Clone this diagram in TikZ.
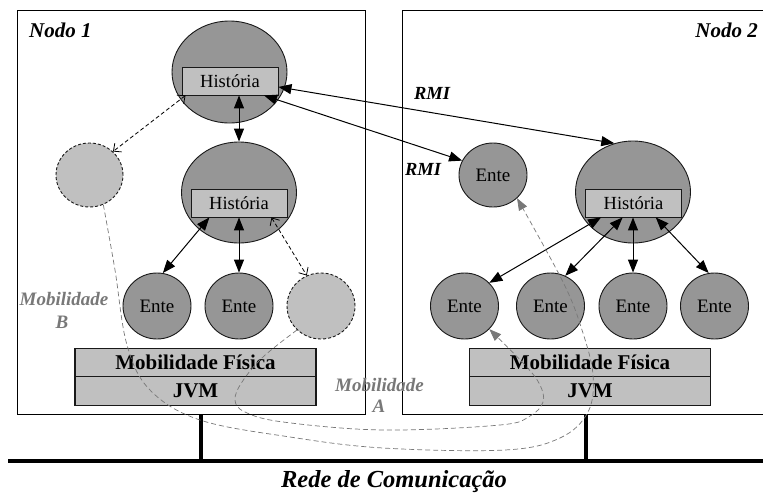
\documentclass[tikz,border=0pt]{standalone}
\usepackage{fontspec}
\setmainfont{Liberation Serif}
\usetikzlibrary{arrows.meta,shapes.geometric}
\definecolor{entefill}{RGB}{150,150,150}
\definecolor{lightfill}{RGB}{192,192,192}
\definecolor{mobgray}{RGB}{120,120,120}
\definecolor{edge}{RGB}{25,25,25}
\newcommand\txf[1]{\fontsize{#1}{#1}\selectfont}
\begin{document}
\begin{tikzpicture}[x=1pt,y=-1pt,
  agent/.style={ellipse,draw=edge,fill=entefill,line width=0.9pt,inner sep=0pt,minimum width=115pt,minimum height=102pt},
  ente/.style={ellipse,draw=edge,fill=entefill,line width=0.9pt,inner sep=0pt,minimum width=68pt,minimum height=66pt,font=\txf{19}},
  ghost/.style={ellipse,draw=edge,fill=lightfill,line width=0.9pt,dash pattern=on 3pt off 2pt,inner sep=0pt,minimum width=67pt,minimum height=64pt},
  hist/.style={rectangle,draw=edge,fill=lightfill,line width=0.9pt,inner sep=0pt,minimum width=96pt,minimum height=28pt,font=\txf{18.5}},
  stack/.style={rectangle,draw=edge,fill=lightfill,line width=1.3pt,inner sep=0pt,minimum width=241pt,minimum height=28.5pt,font=\bfseries\txf{21}},
  nodebox/.style={rectangle,draw=black,line width=0.9pt,inner sep=0pt},
  nodetitle/.style={font=\bfseries\itshape\txf{21}},
  rmi/.style={font=\bfseries\itshape\txf{18.5},inner sep=0pt},
  moblab/.style={font=\bfseries\itshape\txf{19},text=mobgray,inner sep=0pt},
  rmilink/.style={line width=1pt,{Triangle[length=13pt,width=10pt]}-{Triangle[length=13pt,width=10pt]}},
  moveln/.style={line width=0.8pt,dash pattern=on 4pt off 2.5pt,{Straight Barb[length=6pt,width=11pt]}-{Straight Barb[length=6pt,width=11pt]}},
  migr/.style={draw=mobgray,line width=0.7pt,dash pattern=on 5pt off 3pt,-{Triangle[length=12pt,width=9pt]}},
  bus/.style={line width=4.5pt},
  stub/.style={line width=4pt},
]
\useasboundingbox (0,0) rectangle (763,493);

% containers
\node[nodebox,minimum width=348pt,minimum height=404pt] (n1) at (191,212) {};
\coordinate (n2nw) at (402,10);
\coordinate (n2sw) at (402,414);
\draw[line width=0.9pt] (763,10) -- (n2nw) -- (n2sw) -- (763,414);

\node[nodetitle,anchor=base west,inner sep=0pt] (t1) at (29,37) {Nodo 1};
\node[nodetitle,anchor=base east,inner sep=0pt] (t2) at (758,37) {Nodo 2};

% network
\coordinate (busL) at (8,461);
\coordinate (busR) at (763,461);
\coordinate (s1) at (200.5,461);
\coordinate (s2) at (585.5,461);
\draw[bus] (busL) -- (busR);
\draw[stub] (s1 |- n1.south) -- (s1);
\draw[stub] (s2 |- n2sw) -- (s2);
\node[font=\bfseries\itshape\txf{24.5},anchor=base,inner sep=0pt] (net) at (394,487.5) {Rede de Comunicação};

% Nodo 1
\node[agent] (a1) at (229.5,72) {};
\node[hist] (h1) at (230,81) {História};
\node[agent,minimum height=101pt] (a2) at (239,192.5) {};
\node[hist] (h2) at (239,203) {História};
\node[ghost] (g1) at (89.5,175) {};
\node[ente] (e1) at (157,306) {Ente};
\node[ente] (e2) at (239,306) {Ente};
\node[ghost,minimum width=68pt,minimum height=66pt] (g2) at (321,306) {};
\node[stack] (mf1) at (195.5,362.5) {Mobilidade Física};
\node[stack] (jvm1) at (195.5,391) {JVM};

% Nodo 2
\node[agent] (a3) at (633,192) {};
\node[hist] (h3) at (633.5,203) {História};
\node[ente,minimum height=64pt] (r1) at (493,175) {Ente};
\node[ente] (f1) at (464.5,306) {Ente};
\node[ente] (f2) at (550.5,306) {Ente};
\node[ente] (f3) at (633,306) {Ente};
\node[ente] (f4) at (714.5,306) {Ente};
\node[stack] (mf2) at (590,362.5) {Mobilidade Física};
\node[stack] (jvm2) at (590,391) {JVM};

% connectors
\draw[rmilink] (h1.-7) -- (a3.111);
\draw[rmilink] (h1.-23) -- (r1.155);
\draw[rmilink] (h1.south -| a2.north) -- (a2.north);
\draw[moveln] (h1.198) -- (g1.45);
\draw[rmilink] (h2.206) -- (e1.80);
\draw[rmilink] (h2.south) -- (e2.north);
\draw[moveln] (h2.-24) -- (g2.115);
\draw[rmilink] (h3.204) -- (f1.43);
\draw[rmilink] (h3.233) -- (f2.64);
\draw[rmilink] (h3.south -| f3.north) -- (f3.north);
\draw[rmilink] (h3.-33) -- (f4.100);

\node[rmi,anchor=base] (rmi1) at (432,99) {RMI};
\node[rmi,anchor=base] (rmi2) at (423,175) {RMI};

% migrations
\draw[migr] plot[smooth,tension=0.6] coordinates {(g1.295) (115,270) (127,345) (150,390) (200,420) (290,437) (383,448) (505,450) (560,438) (588,412) (593,375) (582,330) (563,282) (r1.316)};
\draw[migr] plot[smooth,tension=0.6] coordinates {(g2.225) (263,357) (242,382) (235,400) (245,412) (283,422) (383,430) (500,425) (530,416) (543,402) (540,385) (525,365) (f1.317)};

\node[moblab,anchor=base] (mb) at (64,305) {Mobilidade};
\node[moblab,anchor=base] (mbB) at (62,328) {B};
\node[moblab,anchor=base] (ma) at (379.5,391) {Mobilidade};
\node[moblab,anchor=base] (maA) at (379,412) {A};
\end{tikzpicture}
\end{document}
